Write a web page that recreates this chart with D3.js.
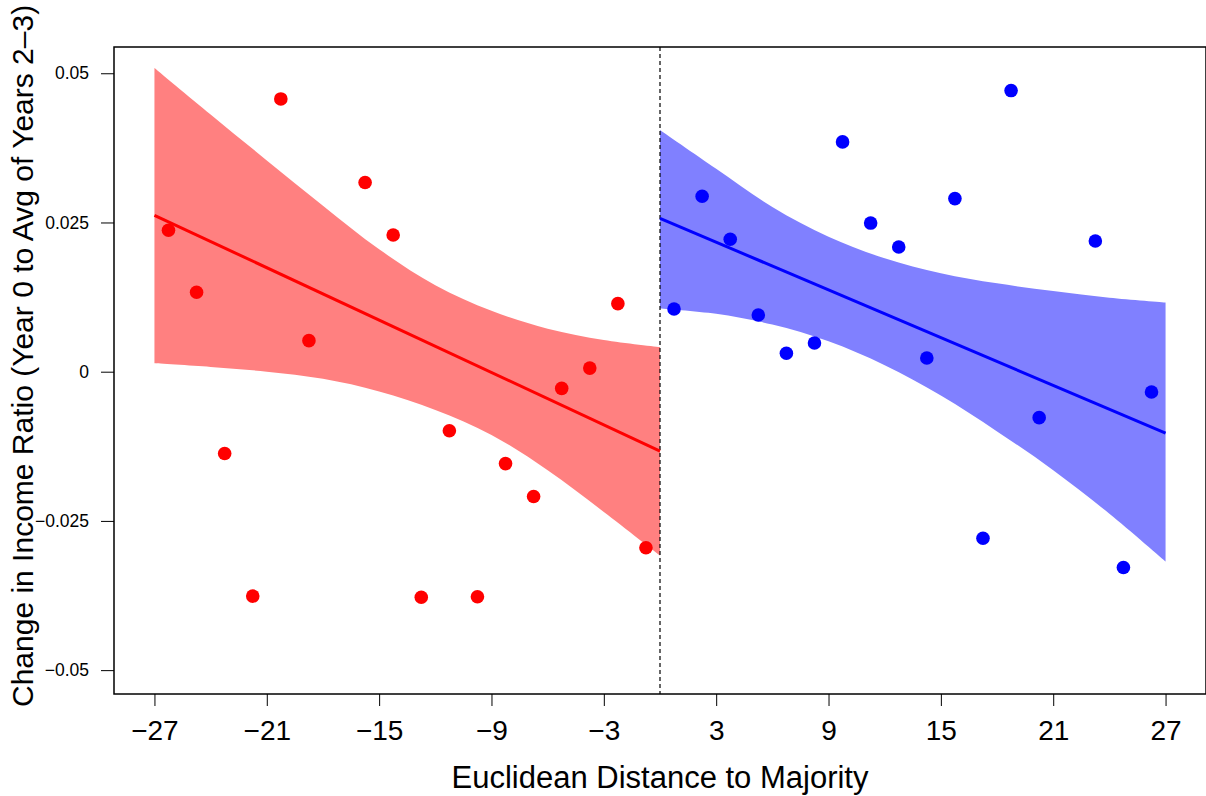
<!DOCTYPE html>
<html>
<head>
<meta charset="utf-8">
<script src="https://cdn.jsdelivr.net/npm/d3@7"></script>
<style>
  body { margin: 0; background: #fff; }
  text { font-family: "Liberation Sans", Arial, Helvetica, sans-serif; fill: #000; }
</style>
</head>
<body>
<div id="chart"></div>
<script>
// points left of the cutoff (red) and right of it (blue)
const redX = [-26.25, -24.75, -23.25, -21.75, -20.25, -18.75, -15.75, -14.25, -12.75, -11.25, -9.75, -8.25, -6.75, -5.25, -3.75, -2.25, -0.75];
const redY = [0.0237, 0.0133, -0.0137, -0.0376, 0.0457, 0.0052, 0.0317, 0.0229, -0.0378, -0.0099, -0.0377, -0.0154, -0.0209, -0.0028, 0.0006, 0.0114, -0.0295];
const blueX = [0.75, 2.25, 3.75, 5.25, 6.75, 8.25, 9.75, 11.25, 12.75, 14.25, 15.75, 17.25, 18.75, 20.25, 23.25, 24.75, 26.25];
const blueY = [0.0105, 0.0294, 0.0222, 0.0095, 0.0031, 0.0048, 0.0385, 0.0249, 0.0209, 0.0023, 0.0290, -0.0279, 0.0471, -0.0077, 0.0219, -0.0328, -0.0034];

// fitted lines
const redFitX = [-27, 0];
const redFitY = [0.0262, -0.0133];
const blueFitX = [0, 27];
const blueFitY = [0.0257, -0.0103];

// confidence bands
const redBandX = [-27, -24, -21, -18, -15, -12, -9, -6, -3, 0];
const redBandHi = [0.0509, 0.0431, 0.0354, 0.0278, 0.0205, 0.0145, 0.0102, 0.0072, 0.0053, 0.0041];
const redBandLo = [0.0014, 0.0008, 0.0000, -0.0012, -0.0033, -0.0064, -0.0106, -0.0165, -0.0235, -0.0308];
const blueBandX = [0, 3, 6, 9, 12, 15, 18, 21, 24, 27];
const blueBandHi = [0.0405, 0.0340, 0.0276, 0.0226, 0.0190, 0.0165, 0.0148, 0.0135, 0.0124, 0.0116];
const blueBandLo = [0.0106, 0.0097, 0.0079, 0.0051, 0.0011, -0.0040, -0.0100, -0.0165, -0.0238, -0.0318];

const xTicks = [-27, -21, -15, -9, -3, 3, 9, 15, 21, 27];
const yTicks = [-0.05, -0.025, 0, 0.025, 0.05];
const cutoff = 0;

const svgWidth = 1206;
const svgHeight = 796;
const box = { left: 114, right: 1206, top: 47, bottom: 694 };

const svg = d3.select("#chart")
  .append("svg")
  .attr("width", svgWidth)
  .attr("height", svgHeight);

const x = d3.scaleLinear().domain([-29.16, 29.16]).range([box.left, box.right]);
const y = d3.scaleLinear().domain([-0.054, 0.0544]).range([box.bottom, box.top]);

const fmt = (d) => String(d).replace("-", "\u2212");

const band = d3.area()
  .x((d) => x(d[0]))
  .y0((d) => y(d[1]))
  .y1((d) => y(d[2]))
  .curve(d3.curveCatmullRom.alpha(0.5));

svg.append("path")
  .datum(redBandX.map((v, i) => [v, redBandLo[i], redBandHi[i]]))
  .attr("fill", "#ff8080")
  .attr("d", band);

svg.append("path")
  .datum(blueBandX.map((v, i) => [v, blueBandLo[i], blueBandHi[i]]))
  .attr("fill", "#8080ff")
  .attr("d", band);

// cutoff
svg.append("line")
  .attr("x1", x(cutoff)).attr("x2", x(cutoff))
  .attr("y1", box.top).attr("y2", box.bottom)
  .attr("stroke", "#000")
  .attr("stroke-width", 1.2)
  .attr("stroke-dasharray", "4,3");

const line = d3.line().x((d) => x(d[0])).y((d) => y(d[1]));

svg.append("path")
  .datum(redFitX.map((v, i) => [v, redFitY[i]]))
  .attr("fill", "none")
  .attr("stroke", "#ff0000")
  .attr("stroke-width", 3)
  .attr("d", line);

svg.append("path")
  .datum(blueFitX.map((v, i) => [v, blueFitY[i]]))
  .attr("fill", "none")
  .attr("stroke", "#0000ff")
  .attr("stroke-width", 3)
  .attr("d", line);

svg.selectAll(".red-pt")
  .data(redX.map((v, i) => [v, redY[i]]))
  .enter()
  .append("circle")
  .attr("cx", (d) => x(d[0]))
  .attr("cy", (d) => y(d[1]))
  .attr("r", 6.8)
  .attr("fill", "#ff0000");

svg.selectAll(".blue-pt")
  .data(blueX.map((v, i) => [v, blueY[i]]))
  .enter()
  .append("circle")
  .attr("cx", (d) => x(d[0]))
  .attr("cy", (d) => y(d[1]))
  .attr("r", 6.8)
  .attr("fill", "#0000ff");

// box
svg.append("rect")
  .attr("x", box.left)
  .attr("y", box.top)
  .attr("width", box.right - box.left)
  .attr("height", box.bottom - box.top)
  .attr("fill", "none")
  .attr("stroke", "#000")
  .attr("stroke-width", 1.5);

// axes
const xAxis = svg.append("g")
  .attr("transform", `translate(0,${box.bottom})`)
  .call(d3.axisBottom(x).tickValues(xTicks).tickSize(12).tickPadding(14).tickFormat(fmt));
xAxis.select(".domain").remove();
xAxis.selectAll("text").style("font-size", "28px");

const yAxis = svg.append("g")
  .attr("transform", `translate(${box.left},0)`)
  .call(d3.axisLeft(y).tickValues(yTicks).tickSize(13).tickPadding(12).tickFormat(fmt));
yAxis.select(".domain").remove();
yAxis.selectAll("text").style("font-size", "17.5px");

svg.append("text")
  .attr("x", (box.left + box.right) / 2)
  .attr("y", 788)
  .attr("text-anchor", "middle")
  .style("font-size", "31px")
  .text("Euclidean Distance to Majority");

svg.append("text")
  .attr("transform", "translate(33,707) rotate(-90)")
  .attr("text-anchor", "start")
  .style("font-size", "30px")
  .text("Change in Income Ratio (Year 0 to Avg of Years 2\u20133)");
</script>
</body>
</html>
